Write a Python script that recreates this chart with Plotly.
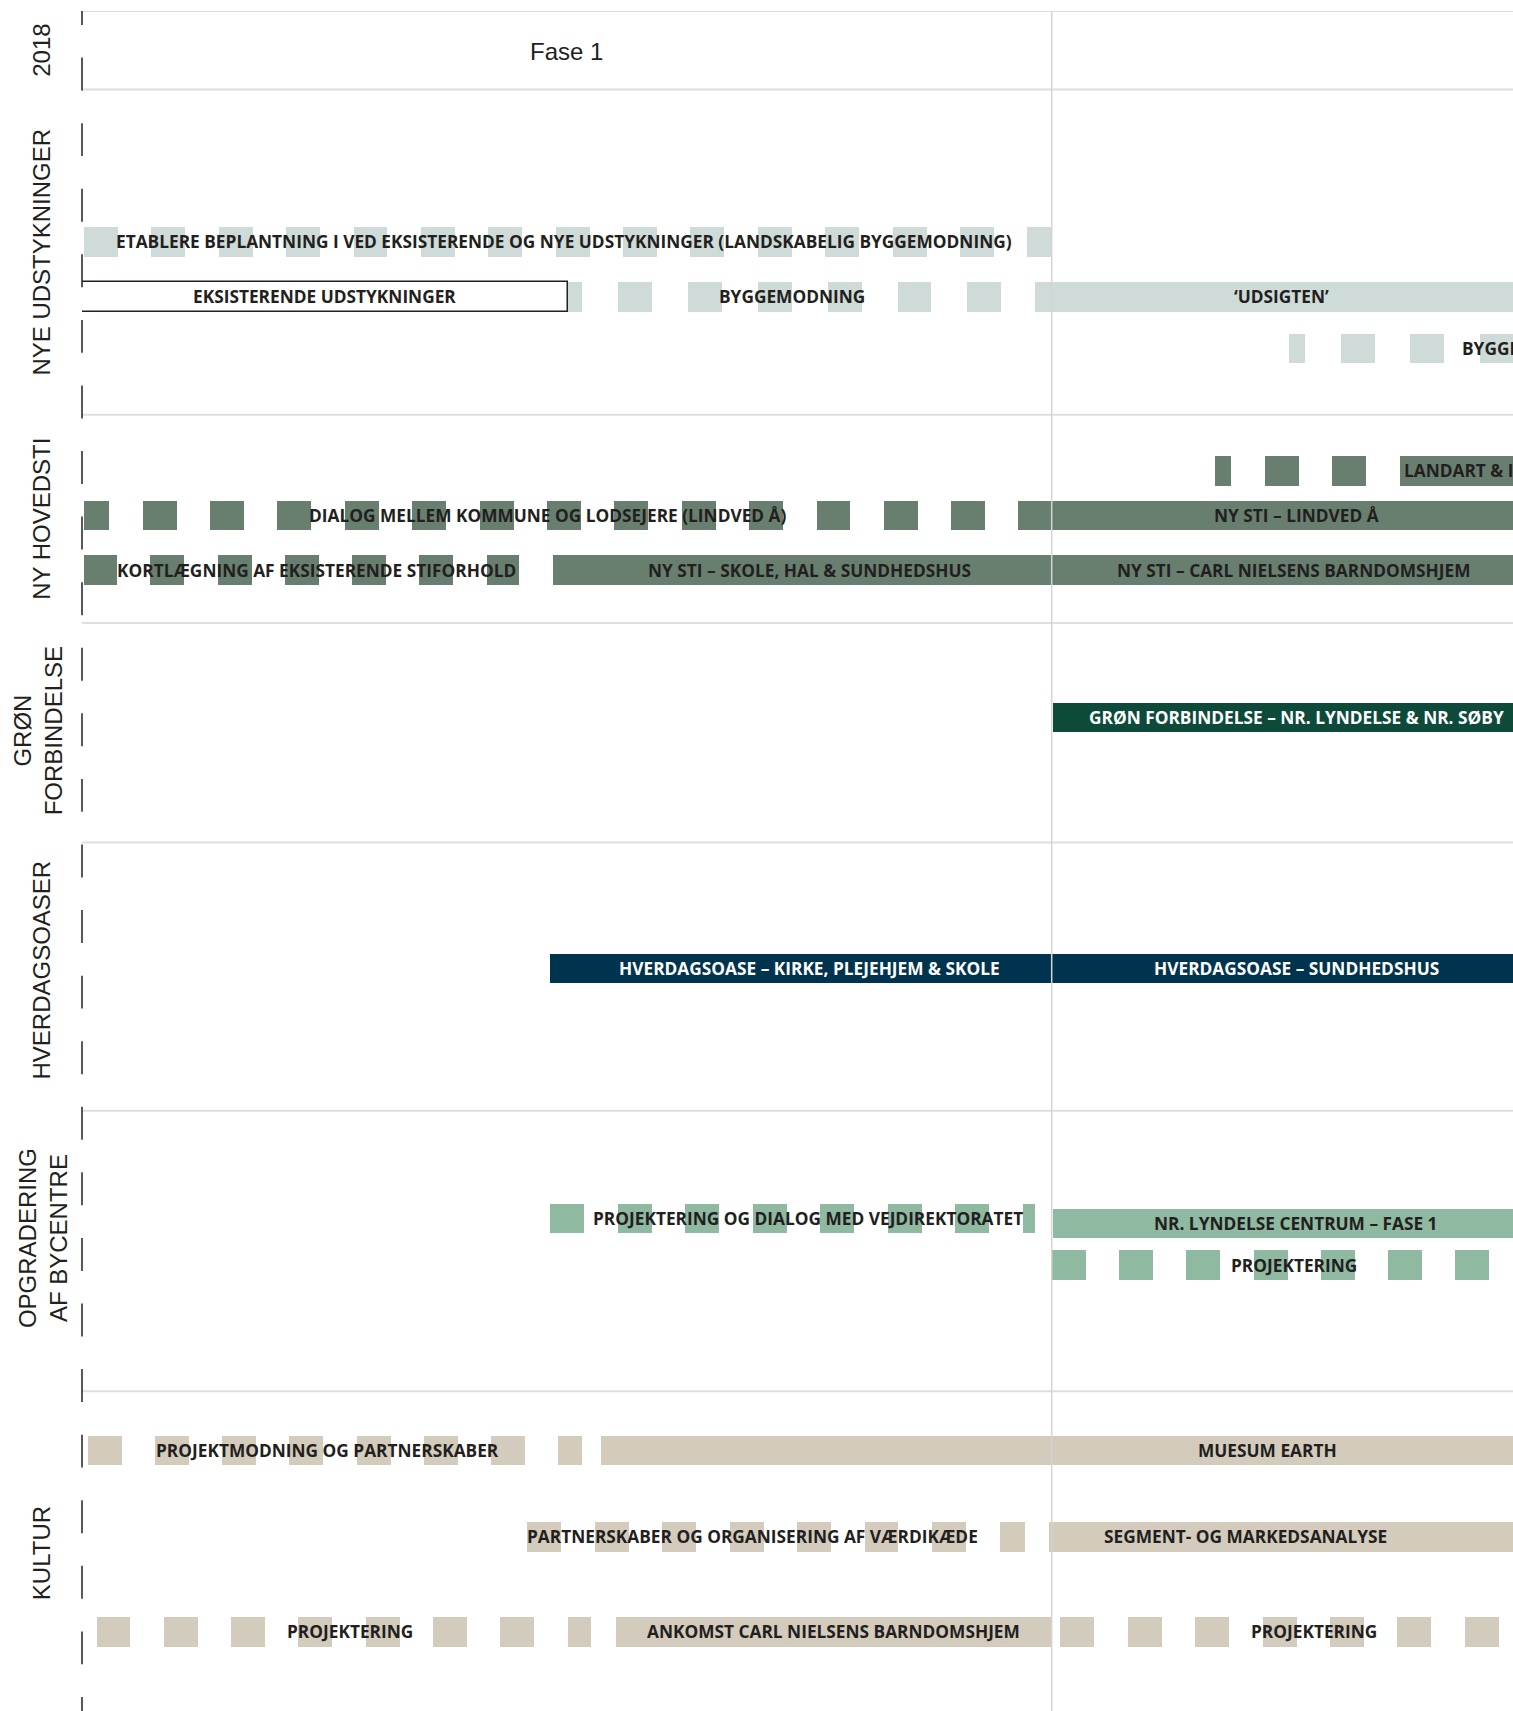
import math
import plotly.graph_objects as go

# ---------------- DATA ----------------
# Time axis: 0-100 = Fase 1, 100-200 = Fase 2 (percent of a phase)
phase_names = ["Fase 1", "Fase 2"]
phase_start = [0, 100]
phase_end = [100, 200]

section_names = ["2018", "NYE UDSTYKNINGER", "NY HOVEDSTI", "GRØN<br>FORBINDELSE",
                 "HVERDAGSOASER", "OPGRADERING<br>AF BYCENTRE", "KULTUR"]

task_labels = [
    "ETABLERE BEPLANTNING I VED EKSISTERENDE OG NYE UDSTYKNINGER (LANDSKABELIG BYGGEMODNING)",
    "EKSISTERENDE UDSTYKNINGER",
    "BYGGEMODNING",
    "‘UDSIGTEN’",
    "BYGGEMODNING",
    "",
    "LANDART & ISKUNST",
    "DIALOG MELLEM KOMMUNE OG LODSEJERE (LINDVED Å)",
    "NY STI – LINDVED Å",
    "KORTLÆGNING AF EKSISTERENDE STIFORHOLD",
    "NY STI – SKOLE, HAL & SUNDHEDSHUS",
    "NY STI – CARL NIELSENS BARNDOMSHJEM",
    "GRØN FORBINDELSE – NR. LYNDELSE & NR. SØBY",
    "HVERDAGSOASE – KIRKE, PLEJEHJEM & SKOLE",
    "HVERDAGSOASE – SUNDHEDSHUS",
    "PROJEKTERING OG DIALOG MED VEJDIREKTORATET",
    "NR. LYNDELSE CENTRUM – FASE 1",
    "PROJEKTERING",
    "PROJEKTMODNING OG PARTNERSKABER",
    "MUESUM EARTH",
    "PARTNERSKABER OG ORGANISERING AF VÆRDIKÆDE",
    "SEGMENT- OG MARKEDSANALYSE",
    "PROJEKTERING",
    "ANKOMST CARL NIELSENS BARNDOMSHJEM",
    "PROJEKTERING",
]
task_section = [1, 1, 1, 1, 1, 2, 2, 2, 2, 2, 2, 2, 3, 4, 4, 5, 5, 5, 6, 6, 6, 6, 6, 6, 6]
task_start = [0.2, 0.0, 50.1, 98.3, 124.5, 116.8, 137.6, 0.2, 96.5, 0.2, 48.6, 100.0,
              100.1, 48.3, 100.0, 48.3, 100.1, 100.0, 0.6, 53.5, 45.9, 99.7, 1.5, 55.1, 100.9]
task_end = [100.0, 50.1, 98.3, 150.0, 160.0, 137.6, 160.0, 96.5, 160.0, 45.1, 100.0, 160.0,
            160.0, 100.0, 160.0, 98.3, 160.0, 160.0, 51.6, 160.0, 97.2, 160.0, 52.5, 100.0, 160.0]
# planned (dashed) vs. fixed (solid) vs. existing (outline)
task_kind = ["plan", "exist", "plan", "fixed", "plan", "plan", "fixed", "plan", "fixed", "plan",
             "fixed", "fixed", "fixed", "fixed", "fixed", "plan", "fixed", "plan", "plan", "fixed",
             "plan", "fixed", "plan", "fixed", "plan"]

# ---------------- LAYOUT / STYLE ----------------
PAGE_PAD = 0                      # page body margin (set to 0 below)
W, H = 1513, 1711
ML, MT = 82, 11
PHASE_PX = 969.7                  # pixel width of one phase
X_MAX = (W - ML) / PHASE_PX * 100
Y_TOP = 10
UNIT_PX = 1.0911                  # pixels per vertical layout unit
Y_BOT = Y_TOP + (H - MT) / UNIT_PX

section_colors = {1: "#cfdbd8", 2: "#687f70", 3: "#0d4a3a", 4: "#00334e", 5: "#8fb9a1", 6: "#d3cbbb"}
white_text_sections = {3, 4}

# lane (row) vertical position of each task
task_lane_y = [221.5, 272, 272, 272, 319.5, 431.5, 431.5, 472.5, 472.5, 522.5, 522.5, 522.5,
               657.5, 887.5, 887.5, 1116.5, 1121.5, 1159.5, 1329.5, 1329.5, 1408.5, 1408.5,
               1495.5, 1495.5, 1495.5]
# label x position and anchor
task_label_x = [49.7, 25.0, 73.2, 123.7, 142.1, None, 136.1, 48.1, 125.2, 24.2, 75.0, 125.0,
                125.2, 75.0, 125.2, 74.9, 125.2, 125.0, 25.3, 122.3, 69.1, 120.0, 27.6, 77.5, 127.1]
task_label_anchor = ["center"] * len(task_labels)
task_label_anchor[4] = "left"
task_label_anchor[6] = "left"
# dash pattern: origin and period (units) for planned tasks
task_dash_origin = [0.2, None, 48.1, None, 122.6, 115.0, None, -0.7, None, 0.1, None, None,
                    None, None, None, 48.3, None, 100.0, 0.6, None, 45.9, None, 1.5, None, 100.9]
task_dash_period = [6.95, None, 7.2, None, 7.2, 6.97, None, 6.95, None, 6.94, None, None,
                    None, None, None, 6.96, None, 6.94, 6.93, None, 6.96, None, 6.94, None, 6.95]
DASH_ON = 3.5
BAR_W = 27

section_label_pos = [(38, 46), (38, 231), (38, 475), (35, 670), (38, 889), (40, 1135), (38, 1423)]
separator_y = [10, 82, 380, 571, 772, 1018, 1275]

S = 1513 / 1387.0
PW = W - ML


def dash_segments(start, end, origin, period, on):
    segs = []
    k = math.floor((start - origin) / period)
    s = origin + k * period
    while s < end:
        a, b = max(s, start), min(s + on, end)
        if b > a:
            segs.append((a, b))
        s += period
    return segs


fig = go.Figure()

for i, lab in enumerate(task_labels):
    col = section_colors[task_section[i]]
    kind = task_kind[i]
    if kind == "plan":
        segs = dash_segments(task_start[i], task_end[i], task_dash_origin[i],
                             task_dash_period[i], DASH_ON)
    else:
        segs = [(task_start[i], task_end[i])]
    fill = "white" if kind == "exist" else col
    fig.add_trace(go.Bar(
        orientation="h",
        base=[a for a, b in segs],
        x=[b - a for a, b in segs],
        y=[task_lane_y[i]] * len(segs),
        width=BAR_W,
        marker=dict(color=fill,
                    line=dict(color="#231f20" if kind == "exist" else col,
                              width=1.5 if kind == "exist" else 0)),
        hoverinfo="skip",
        showlegend=False,
    ))

annotations = []
for i, lab in enumerate(task_labels):
    if not lab or task_label_x[i] is None:
        continue
    tc = "white" if task_section[i] in white_text_sections else "#231f20"
    annotations.append(dict(
        x=task_label_x[i], y=task_lane_y[i], xref="x", yref="y",
        text="<b>" + lab + "</b>", showarrow=False,
        xanchor=task_label_anchor[i], yanchor="middle",
        font=dict(family="Open Sans", size=17.3, color=tc),
    ))

for name, a, b in zip(phase_names, phase_start, phase_end):
    annotations.append(dict(
        x=(a + b) / 2, y=47, xref="x", yref="y", text=name, showarrow=False,
        xanchor="center", yanchor="middle",
        font=dict(family="Liberation Sans", size=24, color="#231f20"),
    ))

for name, (px, py) in zip(section_names, section_label_pos):
    annotations.append(dict(
        x=(px * S - PAGE_PAD - ML) / PW, y=py, xref="paper", yref="y", text=name,
        showarrow=False, textangle=-90, xanchor="center", yanchor="middle", align="center",
        font=dict(family="Liberation Sans", size=24, color="#231f20"),
    ))

shapes = []
for yv in separator_y:
    shapes.append(dict(type="line", xref="paper", yref="y", x0=0, x1=1, y0=yv, y1=yv,
                       line=dict(color="#dedede", width=2), layer="below"))
# phase divider
for a in phase_start[1:]:
    shapes.append(dict(type="line", xref="x", yref="y", x0=a, x1=a, y0=Y_TOP, y1=Y_BOT,
                       line=dict(color="#d4d4d4", width=1.5), layer="above"))
# dashed left axis
for a, b in dash_segments(Y_TOP, Y_BOT, -7.4, 60.1, 30.2):
    shapes.append(dict(type="line", xref="paper", yref="y", x0=0, x1=0, y0=a, y1=b,
                       line=dict(color="#231f20", width=1.5), layer="above"))

fig.update_layout(
    width=W, height=H,
    margin=dict(l=ML, r=0, t=MT, b=0),
    paper_bgcolor="white", plot_bgcolor="white",
    barmode="overlay", bargap=0, showlegend=False,
    xaxis=dict(range=[0, X_MAX], visible=False, fixedrange=True),
    yaxis=dict(range=[Y_BOT, Y_TOP], visible=False, fixedrange=True),
    annotations=annotations, shapes=shapes,
)

fig.write_html(
    "out.html",
    config={"displayModeBar": False},
    post_script="document.body.style.margin='0px';"
                "document.documentElement.style.overflow='hidden';",
)
